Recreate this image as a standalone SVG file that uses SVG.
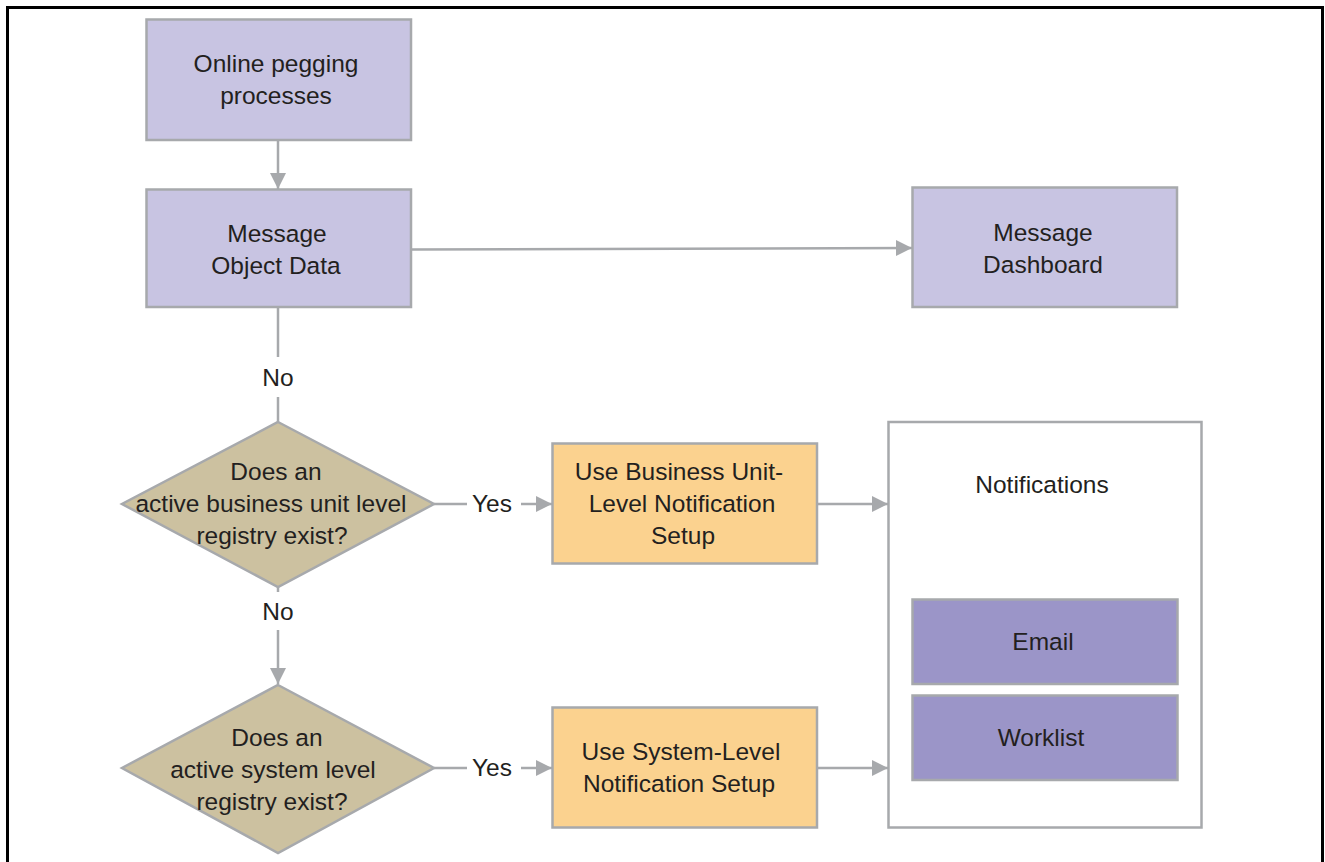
<svg xmlns="http://www.w3.org/2000/svg" width="1325" height="862" viewBox="0 0 1325 862">
  <defs>
    <marker id="arrow" markerWidth="17" markerHeight="17" refX="16" refY="8.5" orient="auto" markerUnits="userSpaceOnUse">
      <path d="M0,0.5 L16,8.5 L0,16.5 Z" fill="#A7A9AC"/>
    </marker>
    <style>
      .box { stroke: #A7A9AC; stroke-width: 2.5; }
      .lav { fill: #C8C4E2; }
      .dec { fill: #CCC1A0; }
      .act { fill: #FBD28F; }
      .chan { fill: #9B95C8; }
      .group { fill: #FFFFFF; }
      .conn { stroke: #A7A9AC; stroke-width: 2.5; fill: none; }
      text { font-family: "Liberation Sans", Arial, sans-serif; font-size: 24.5px; fill: #231F20; text-anchor: middle; }
    </style>
  </defs>

  <rect width="1325" height="862" fill="#FFFFFF"/>
  <!-- page frame (open at the bottom) -->
  <path d="M7.5,862 L7.5,7.5 L1322.5,7.5 L1322.5,862" fill="none" stroke="#000000" stroke-width="3"/>

  <g id="connectors">
    <line class="conn" x1="278" y1="140" x2="278" y2="189" marker-end="url(#arrow)"/>
    <line class="conn" x1="411" y1="249.5" x2="912" y2="248" marker-end="url(#arrow)"/>
    <line class="conn" x1="278" y1="307" x2="278" y2="357"/>
    <line class="conn" x1="278" y1="397" x2="278" y2="422"/>
    <line class="conn" x1="434" y1="504" x2="467" y2="504"/>
    <line class="conn" x1="521" y1="504" x2="552" y2="504" marker-end="url(#arrow)"/>
    <line class="conn" x1="817" y1="504" x2="888" y2="504" marker-end="url(#arrow)"/>
    <line class="conn" x1="278" y1="587" x2="278" y2="592"/>
    <line class="conn" x1="278" y1="630" x2="278" y2="684" marker-end="url(#arrow)"/>
    <line class="conn" x1="434" y1="768" x2="467" y2="768"/>
    <line class="conn" x1="521" y1="768" x2="552" y2="768" marker-end="url(#arrow)"/>
    <line class="conn" x1="817" y1="768" x2="888" y2="768" marker-end="url(#arrow)"/>
    <text x="278" y="386">No</text>
    <text x="278" y="620">No</text>
    <text x="492" y="512">Yes</text>
    <text x="492" y="776">Yes</text>
  </g>

  <g id="online-pegging">
    <rect class="box lav" x="146.5" y="19.5" width="264.5" height="120.5"/>
    <text x="276" y="72">Online pegging</text>
    <text x="276" y="104">processes</text>
  </g>

  <g id="message-object-data">
    <rect class="box lav" x="146.5" y="189.5" width="264.5" height="117.5"/>
    <text x="277" y="242">Message</text>
    <text x="276" y="274">Object Data</text>
  </g>

  <g id="message-dashboard">
    <rect class="box lav" x="912.5" y="187.5" width="264.5" height="119.5"/>
    <text x="1043" y="241">Message</text>
    <text x="1043" y="273">Dashboard</text>
  </g>

  <g id="bu-registry-decision">
    <polygon class="box dec" points="278,422 434,504 278,587 122,504"/>
    <text x="276" y="480">Does an</text>
    <text x="271" y="512">active business unit level</text>
    <text x="272" y="544">registry exist?</text>
  </g>

  <g id="system-registry-decision">
    <polygon class="box dec" points="278,685 434,768 278,853 122,768"/>
    <text x="277" y="746">Does an</text>
    <text x="273" y="778">active system level</text>
    <text x="272" y="810">registry exist?</text>
  </g>

  <g id="bu-notification-setup">
    <rect class="box act" x="552.5" y="443.5" width="264.5" height="120"/>
    <text x="679" y="480">Use Business Unit-</text>
    <text x="682" y="512">Level Notification</text>
    <text x="683" y="544">Setup</text>
  </g>

  <g id="system-notification-setup">
    <rect class="box act" x="552.5" y="707.5" width="264.5" height="120"/>
    <text x="681" y="760">Use System-Level</text>
    <text x="679" y="792">Notification Setup</text>
  </g>

  <g id="notifications">
    <rect class="box group" x="888.5" y="422" width="313" height="405.5"/>
    <text x="1042" y="493">Notifications</text>
  </g>

  <g id="email">
    <rect class="box chan" x="912.5" y="599.5" width="265" height="84.5"/>
    <text x="1043" y="650">Email</text>
  </g>

  <g id="worklist">
    <rect class="box chan" x="912.5" y="695.5" width="265" height="84.5"/>
    <text x="1041" y="746">Worklist</text>
  </g>
</svg>
